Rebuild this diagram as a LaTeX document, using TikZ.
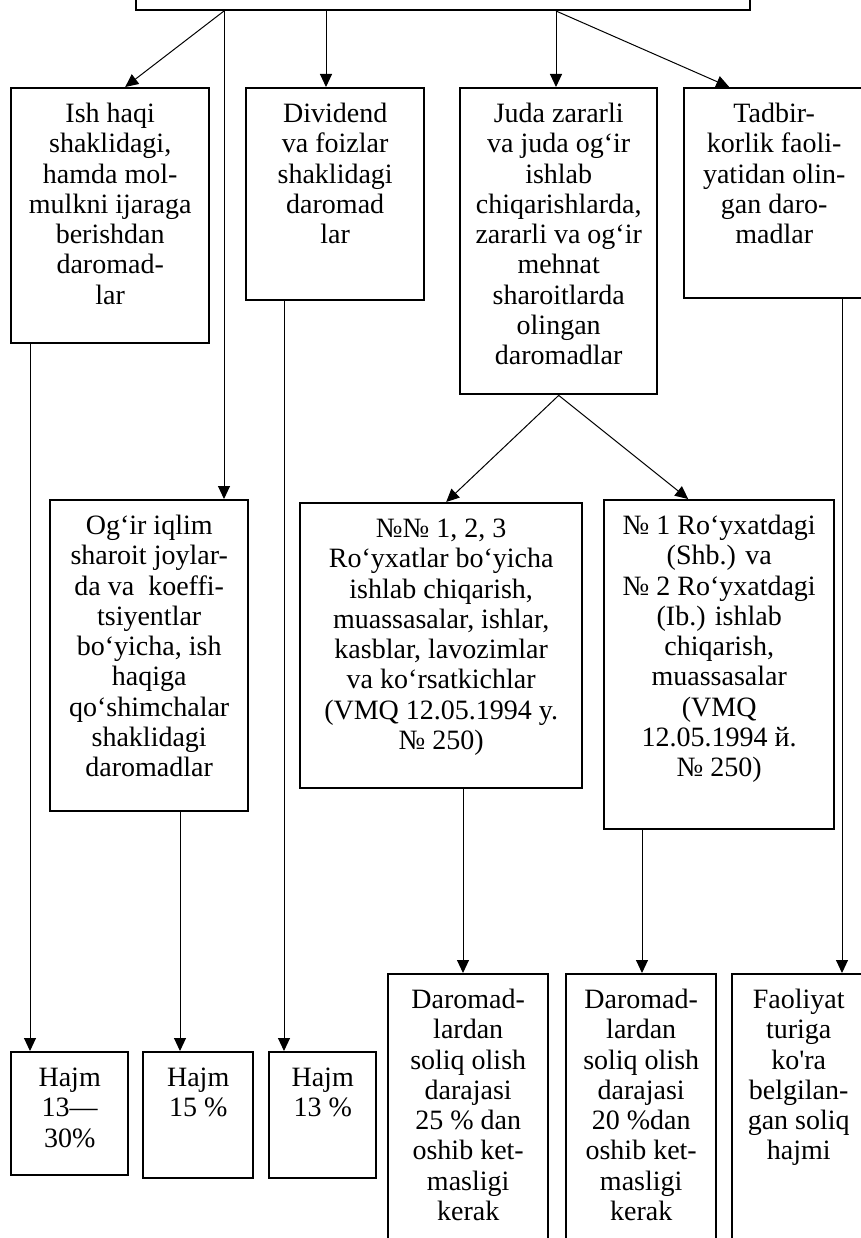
\documentclass[tikz,border=0pt]{standalone}
\usepackage{fontspec}
\setmainfont{Liberation Serif}[Ligatures=TeXOff]
\usetikzlibrary{arrows.meta,calc}

% A framed block: name, left, top, right, bottom, text (set from the top, centred)
\newcommand\blockbox[6]{%
  \node[boxst, anchor=north west] (#1) at (#2,#3)
    {\parbox[c][\dimexpr#5pt-#3pt\relax][t]{\dimexpr#4pt-#2pt\relax}%
      {\centering\vspace{13pt}\strut#6\par}};}

\begin{document}
\begin{tikzpicture}[x=1pt,y=-1pt,
    boxst/.style={draw, line width=2.4pt, inner sep=0pt,
      font=\fontsize{28}{30.3}\selectfont},
    arr/.style={draw, line width=1pt, -{Triangle[length=13pt,width=12pt]}}]

\useasboundingbox (0,0) rectangle (860,1238);

% head block (its upper part lies above the page)
\node[boxst, anchor=south west, minimum width=614pt, minimum height=60pt] (top) at (135,11) {};

% first row
\blockbox{ish}{10}{87}{208}{342}{Ish haqi\\ shaklidagi,\\ hamda mol-\\ mulkni ijaraga\\ berishdan\\ daromad-\\ lar}
\blockbox{div}{245}{87}{423}{299}{Dividend\\ va foizlar\\ shaklidagi\\ daromad\\ lar}
\blockbox{juda}{459}{87}{656}{393}{Juda zararli\\ va juda og‘ir\\ ishlab\\ chiqarishlarda,\\ zararli va og‘ir\\ mehnat\\ sharoitlarda\\ olingan\\ daromadlar}
\blockbox{tad}{683}{87}{863}{297}{Tadbir-\\ korlik faoli-\\ yatidan olin-\\ gan daro-\\ madlar}

% second row
\blockbox{og}{49}{499}{247}{810}{Og‘ir iqlim\\ sharoit joylar-\\ da va\ \ koeffi-\\ tsiyentlar\\ bo‘yicha, ish\\ haqiga\\ qo‘shimchalar\\ shaklidagi\\ daromadlar}
\blockbox{nlist}{299}{502}{581}{787}{№№ 1, 2, 3\\ Ro‘yxatlar bo‘yicha\\ ishlab chiqarish,\\ muassasalar, ishlar,\\ kasblar, lavozimlar\\ va ko‘rsatkichlar\\ (VMQ 12.05.1994 y.\\ № 250)}
\blockbox{none}{603}{499}{833}{828}{№ 1 Ro‘yxatdagi\\ (Shb.) va\\ № 2 Ro‘yxatdagi\\ (Ib.) ishlab\\ chiqarish,\\ muassasalar\\ (VMQ\\ 12.05.1994 й.\\ № 250)}

% bottom row
\blockbox{ha}{10}{1051}{127}{1174}{Hajm\\ 13—\\ 30\%}
\blockbox{hb}{142}{1051}{252}{1177}{Hajm\\ 15 \%}
\blockbox{hc}{268}{1051}{375}{1177}{Hajm\\ 13 \%}
\blockbox{da}{387}{973}{547}{1270}{Daromad-\\ lardan\\ soliq olish\\ darajasi\\ 25 \% dan\\ oshib ket-\\ masligi\\ kerak}
\blockbox{db}{565}{973}{715}{1270}{Daromad-\\ lardan\\ soliq olish\\ darajasi\\ 20 \%dan\\ oshib ket-\\ masligi\\ kerak}
\blockbox{fa}{731}{973}{864}{1270}{Faoliyat\\ turiga\\ ko'ra\\ belgilan-\\ gan soliq\\ hajmi}

% branching points on the head block
\path (top.south west) ++(89,0) coordinate (tA);
\path (top.south west) ++(191,0) coordinate (tB);
\path (top.south west) ++(421,0) coordinate (tC);

% columns of the vertical connectors
\coordinate (xa) at (30,0);
\coordinate (xb) at (180,0);
\coordinate (xc) at (284,0);
\coordinate (xd) at (463,0);
\coordinate (xe) at (642,0);
\coordinate (xf) at (842,0);

% connectors from the head block
\draw[arr] (tA) -- ($(ish.north)+(15,0)$);
\draw[arr] (tA) -- (tA |- og.north);
\draw[arr] (tB) -- (tB |- div.north);
\draw[arr] (tC) -- (tC |- juda.north);
\draw[arr] (tC) -- ($(tad.north)+(-45,0)$);

% split of the hazardous-work block
\draw[arr] (juda.south) -- ($(nlist.north)+(5,0)$);
\draw[arr] (juda.south) -- ($(none.north)+(-31,0)$);

% down to the rates
\draw[arr] (ish.south -| xa) -- (ha.north -| xa);
\draw[arr] (og.south -| xb) -- (hb.north -| xb);
\draw[arr] (div.south -| xc) -- (hc.north -| xc);
\draw[arr] (nlist.south -| xd) -- (da.north -| xd);
\draw[arr] (none.south -| xe) -- (db.north -| xe);
\draw[arr] (tad.south -| xf) -- (fa.north -| xf);

\end{tikzpicture}
\end{document}
